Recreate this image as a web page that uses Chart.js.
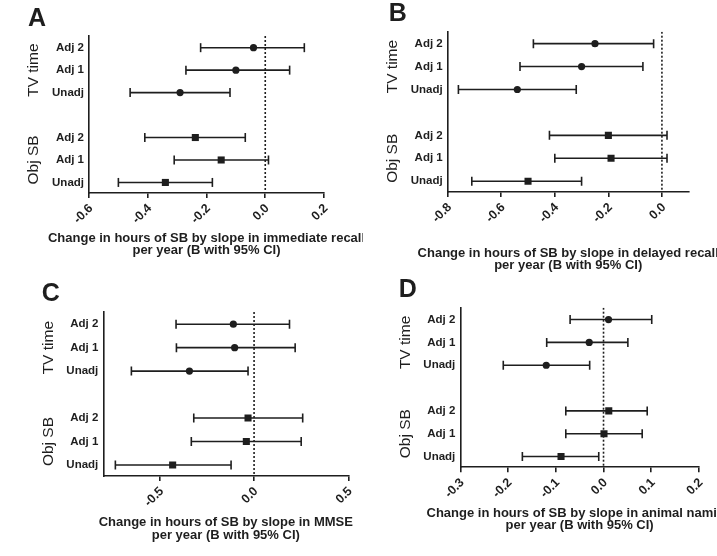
<!DOCTYPE html>
<html>
<head>
<meta charset="utf-8">
<script src="https://cdn.jsdelivr.net/npm/chart.js@4.4.1/dist/chart.umd.min.js"></script>
<style>
  html, body { margin: 0; padding: 0; background: #fff; }
  body { width: 717px; height: 556px; position: relative; overflow: hidden; }
  canvas { position: absolute; }
</style>
</head>
<body>
<canvas id="pA" width="363" height="278" style="left:0;top:0"></canvas>
<canvas id="pB" width="354" height="278" style="left:363px;top:0"></canvas>
<canvas id="pC" width="363" height="278" style="left:0;top:278px"></canvas>
<canvas id="pD" width="354" height="278" style="left:363px;top:278px"></canvas>
<script>
// rows: TV time (Adj 2, Adj 1, Unadj), gap, Obj SB (Adj 2, Adj 1, Unadj)
const rowLabels = ['Adj 2', 'Adj 1', 'Unadj', 'Adj 2', 'Adj 1', 'Unadj'];
const rowPositions = [0, 1, 2, 4, 5, 6];
const groupLabels = ['TV time', 'Obj SB'];
const groupCenters = [1, 5];

// A — immediate recall
const aEst  = [-0.04, -0.10, -0.29, -0.238, -0.15, -0.34];
const aLow  = [-0.22, -0.27, -0.46, -0.41, -0.31, -0.50];
const aHigh = [0.133, 0.083, -0.12, -0.068, 0.011, -0.18];
const aTicks = [-0.6, -0.4, -0.2, 0.0, 0.2];
const aTitle = ['Change in hours of SB by slope in immediate recall', 'per year (B with 95% CI)'];

// B — delayed recall
const bEst  = [-0.25, -0.30, -0.54, -0.20, -0.19, -0.50];
const bLow  = [-0.48, -0.53, -0.76, -0.42, -0.40, -0.71];
const bHigh = [-0.031, -0.071, -0.32, 0.019, 0.019, -0.30];
const bTicks = [-0.8, -0.6, -0.4, -0.2, 0.0];
const bTitle = ['Change in hours of SB by slope in delayed recall', 'per year (B with 95% CI)'];

// C — MMSE
const cEst  = [-0.11, -0.103, -0.343, -0.032, -0.041, -0.432];
const cLow  = [-0.414, -0.412, -0.651, -0.32, -0.333, -0.736];
const cHigh = [0.188, 0.218, -0.032, 0.258, 0.25, -0.122];
const cTicks = [-0.5, 0.0, 0.5];
const cTitle = ['Change in hours of SB by slope in MMSE', 'per year (B with 95% CI)'];

// D — animal naming
const dEst  = [0.0105, -0.030, -0.120, 0.011, 0.001, -0.089];
const dLow  = [-0.070, -0.119, -0.210, -0.079, -0.079, -0.170];
const dHigh = [0.101, 0.051, -0.029, 0.0915, 0.081, -0.010];
const dTicks = [-0.3, -0.2, -0.1, 0.0, 0.1, 0.2];
const dTitle = ['Change in hours of SB by slope in animal naming', 'per year (B with 95% CI)'];

const INK = '#1e1e1e';
const FAMILY = '"Liberation Sans", Arial, Helvetica, sans-serif';
const Y_MIN = -0.52, Y_MAX = 6.47;
Chart.defaults.font.family = FAMILY;
Chart.defaults.color = INK;

// group labels, panel letter and the two-line axis title (drawn unclipped, like the figure)
const panelDecor = {
  id: 'panelDecor',
  afterDraw(chart, args, opts) {
    const { ctx, chartArea, scales } = chart;
    ctx.save();
    ctx.fillStyle = INK;
    ctx.font = '15.5px ' + FAMILY;
    ctx.textAlign = 'center';
    ctx.textBaseline = 'middle';
    groupLabels.forEach((t, i) => {
      const cy = scales.y.getPixelForValue(groupCenters[i]);
      ctx.save();
      ctx.translate(chartArea.left - 55, cy);
      ctx.rotate(-Math.PI / 2);
      ctx.fillText(t, 0, 0);
      ctx.restore();
    });
    const cx = (chartArea.left + chartArea.right) / 2;
    ctx.font = 'bold 13px ' + FAMILY;
    opts.title.forEach((line, i) => ctx.fillText(line, cx, opts.titleY + i * 12.5));
    ctx.font = 'bold 25px ' + FAMILY;
    ctx.textAlign = 'left';
    ctx.textBaseline = 'alphabetic';
    ctx.fillText(opts.letter, opts.lx, opts.ly);
    ctx.restore();
  }
};

function fmt(v) {
  return Math.abs(v) < 1e-9 ? '0.0' : v.toFixed(1);
}

function makePanel(id, p) {
  const ciSets = rowPositions.map((y, i) => ({
    data: [{ x: p.low[i], y }, { x: p.high[i], y }],
    showLine: true,
    borderColor: INK,
    borderWidth: 1.6,
    pointStyle: 'line',
    rotation: 90,
    pointRadius: 4.5,
    pointBorderWidth: 1.6,
    pointBorderColor: INK,
    order: 3
  }));
  const tvSet = {
    data: rowPositions.slice(0, 3).map((y, i) => ({ x: p.est[i], y })),
    pointStyle: 'circle', pointRadius: 3.6,
    backgroundColor: INK, borderColor: INK, borderWidth: 0,
    order: 1
  };
  const sbSet = {
    data: rowPositions.slice(3).map((y, i) => ({ x: p.est[i + 3], y })),
    pointStyle: 'rect', pointRadius: 5,
    backgroundColor: INK, borderColor: INK, borderWidth: 0,
    order: 1
  };
  const zeroSet = {
    data: [{ x: 0, y: Y_MIN }, { x: 0, y: Y_MAX }],
    showLine: true, borderColor: INK, borderWidth: 1.6, borderDash: [2, 2],
    pointRadius: 0,
    order: 2
  };

  new Chart(document.getElementById(id), {
    type: 'scatter',
    data: { datasets: [...ciSets, zeroSet, tvSet, sbSet] },
    options: {
      responsive: false,
      animation: false,
      layout: { padding: { left: 0, top: p.padTop, right: p.padRight, bottom: 0 } },
      plugins: {
        legend: { display: false },
        tooltip: { enabled: false },
        panelDecor: { letter: p.letter, lx: p.lx, ly: p.ly, title: p.title, titleY: p.titleY }
      },
      scales: {
        x: {
          type: 'linear',
          min: p.xMin, max: p.xMax,
          afterBuildTicks: s => { s.ticks = p.ticks.map(v => ({ value: v })); },
          afterFit: s => { s.height = p.xAxisH; },
          ticks: {
            autoSkip: false, minRotation: 45, maxRotation: 45,
            color: INK, padding: 3, labelOffset: 2,
            font: { size: 12.5, weight: 'bold' },
            callback: v => fmt(v)
          },
          grid: { drawOnChartArea: false, drawTicks: true, tickLength: 5, color: INK, lineWidth: 1.6 },
          border: { color: INK, width: 1.6 }
        },
        y: {
          type: 'linear', reverse: true,
          min: Y_MIN, max: Y_MAX,
          afterBuildTicks: s => { s.ticks = rowPositions.map(v => ({ value: v })); },
          afterFit: s => { s.width = p.yAxisW; },
          ticks: {
            autoSkip: false, color: INK, padding: 5,
            font: { size: 11.5, weight: 'bold' },
            callback: v => rowLabels[rowPositions.indexOf(v)]
          },
          grid: { drawOnChartArea: false, drawTicks: false },
          border: { color: INK, width: 1.6 }
        }
      }
    },
    plugins: [panelDecor]
  });
}

makePanel('pA', { est: aEst, low: aLow, high: aHigh, ticks: aTicks, title: aTitle, titleY: 238.3,
  xMin: -0.6, xMax: 0.2, yAxisW: 89, padTop: 36, padRight: 39, xAxisH: 85,
  letter: 'A', lx: 28, ly: 26 });
makePanel('pB', { est: bEst, low: bLow, high: bHigh, ticks: bTicks, title: bTitle, titleY: 253.3,
  xMin: -0.8, xMax: 0.1, yAxisW: 84.7, padTop: 31.7, padRight: 28.3, xAxisH: 86,
  letter: 'B', lx: 25.7, ly: 20.7 });
makePanel('pC', { est: cEst, low: cLow, high: cHigh, ticks: cTicks, title: cTitle, titleY: 244.7,
  xMin: -0.8, xMax: 0.5, yAxisW: 103.3, padTop: 34, padRight: 14.7, xAxisH: 80,
  letter: 'C', lx: 41.7, ly: 23 });
makePanel('pD', { est: dEst, low: dLow, high: dHigh, ticks: dTicks, title: dTitle, titleY: 235.3,
  xMin: -0.3, xMax: 0.2, yAxisW: 97.3, padTop: 29.7, padRight: 18, xAxisH: 88.7,
  letter: 'D', lx: 35.7, ly: 18.7 });
</script>
</body>
</html>
